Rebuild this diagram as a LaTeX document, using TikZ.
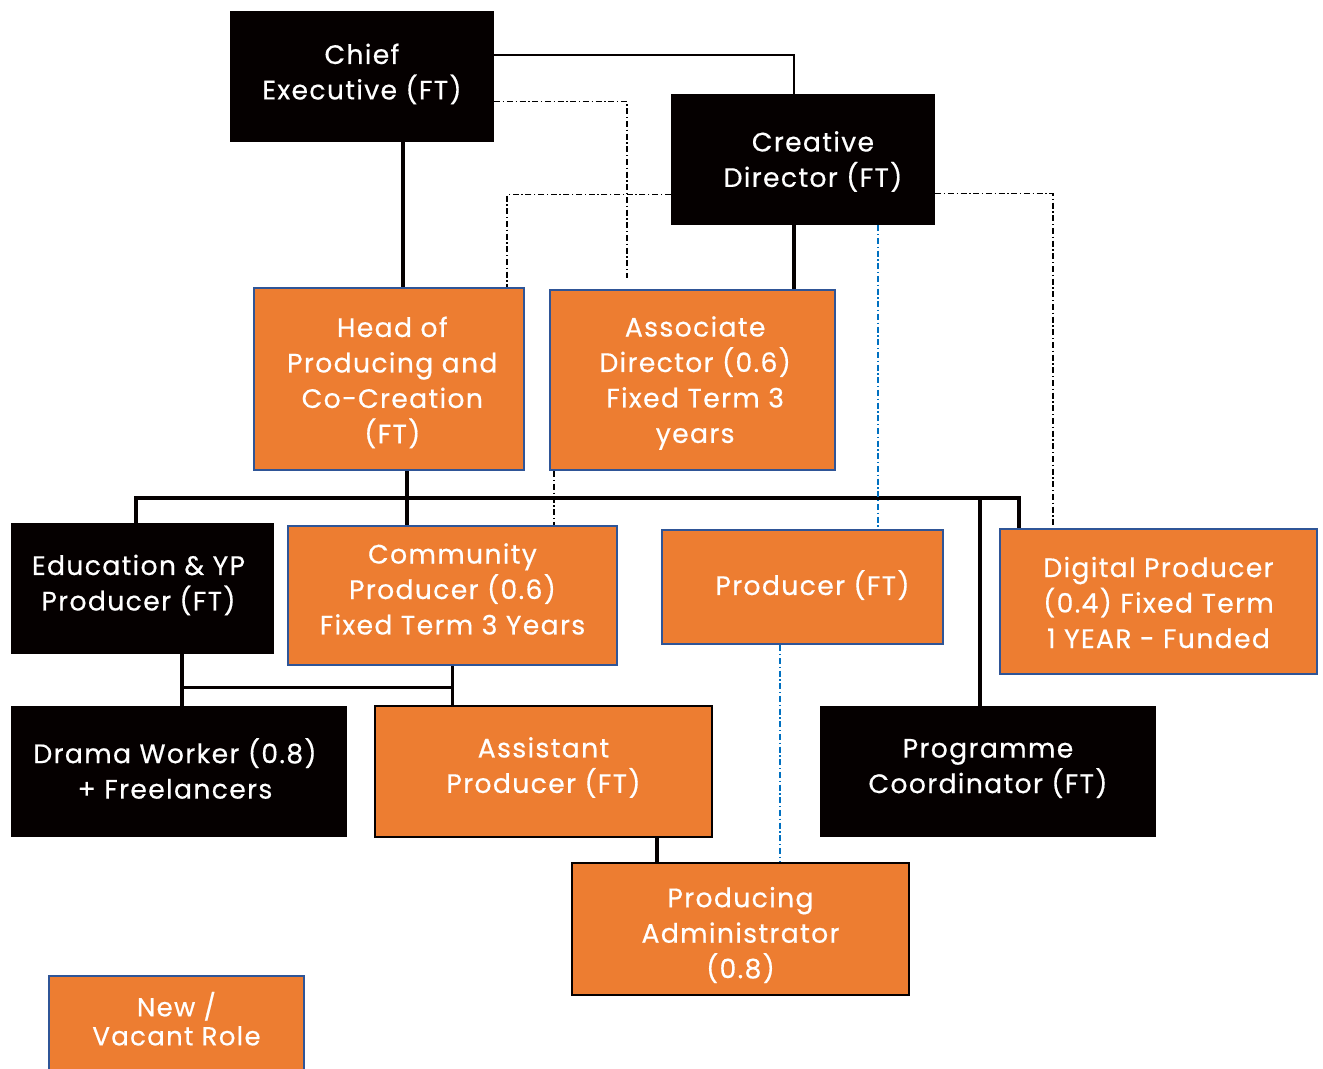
\documentclass[tikz,border=0pt]{standalone}
\usepackage{fontspec}
\setmainfont{Poppins}[LetterSpace=5,FakeBold=0.5]
\usetikzlibrary{fit,calc}
\definecolor{orng}{RGB}{237,125,49}
\definecolor{bord}{RGB}{47,85,151}
\definecolor{dblue}{RGB}{0,112,192}
\definecolor{blk}{RGB}{5,0,0}
\begin{document}
\begin{tikzpicture}[x=0.75pt,y=-0.75pt,
  txt/.style={font=\fontsize{20}{26.6}\selectfont, text=white, align=center, inner sep=0pt},
  boxbase/.style={inner sep=0pt},
  blackbox/.style={boxbase, fill=blk, draw=none},
  orangebox/.style={boxbase, fill=orng, draw=bord, line width=1.8pt},
  orangekbox/.style={boxbase, fill=orng, draw=blk, line width=2.2pt},
  thicklink/.style={draw=blk, line width=2.6pt},
  thinlink/.style={draw=blk, line width=1.8pt},
  dd/.style={line width=0.8pt, dash pattern=on 4.5pt off 2pt on 1pt off 2pt},
  ddblack/.style={dd, draw=black},
  ddblue/.style={dd, draw=dblue}]
\useasboundingbox (0,0) rectangle (1323,1068);
\clip (0,0) rectangle (1323,1068);
\fill[white] (0,0) rectangle (1323,1068);

% boxes
\node[blackbox, fit={(230,11) (494,142)}, label={[txt,yshift=1.9pt]center:{Chief\\Executive (FT)}}] (ce) {};
\node[blackbox, fit={(671,94) (935,225)}, label={[txt,xshift=7.5pt,yshift=-1.5pt]center:{Creative\\Director (FT)}}] (cd) {};
\node[orangebox, fit={(254,288) (524,470)}, label={[txt,xshift=2.5pt,yshift=-2.6pt]center:{Head of\\Producing and\\Co-Creation\\(FT)}}] (hp) {};
\node[orangebox, fit={(550,290) (835,470)}, label={[txt,xshift=2pt,yshift=-2.25pt]center:{Associate\\Director (0.6)\\Fixed Term 3\\years}}] (ad) {};
\node[blackbox, fit={(11,523) (274,654)}, label={[txt,xshift=-3pt,yshift=2.6pt]center:{Education \& YP\\Producer (FT)}}] (ed) {};
\node[orangebox, fit={(288,526) (617,665)}, label={[txt,yshift=4.9pt]center:{Community\\Producer (0.6)\\Fixed Term 3 Years}}] (cp) {};
\node[orangebox, fit={(662,530) (943,644)}, label={[txt,xshift=7.5pt,yshift=1.5pt]center:{Producer (FT)}}] (pr) {};
\node[orangebox, fit={(1000,529) (1317,674)}, label={[txt,yshift=-0.75pt]center:{Digital Producer\\(0.4) Fixed Term\\1 YEAR - Funded}}] (dp) {};
\node[blackbox, fit={(11,706) (347,837)}, label={[txt,xshift=-3pt,yshift=2.25pt]center:{Drama Worker (0.8)\\+ Freelancers}}] (dw) {};
\node[orangekbox, fit={(375,706) (712,837)}, label={[txt,yshift=3pt]center:{Assistant\\Producer (FT)}}] (ap) {};
\node[blackbox, fit={(820,706) (1156,837)}, label={[txt,yshift=2.25pt]center:{Programme\\Coordinator (FT)}}] (pc) {};
\node[orangekbox, fit={(572,863) (909,995)}, label={[txt,yshift=-4.5pt]center:{Producing\\Administrator\\(0.8)}}] (pa) {};
\node[orangebox, fit={(49,976) (304,1070)}, label={[txt,font=\fontsize{19.5}{21.75}\selectfont,yshift=3.25pt]center:{New /\\Vacant Role}}] (nv) {};

% solid connectors
\draw[thinlink] ([yshift=-33pt]ce.north east) -| ([xshift=-6.75pt]cd.north);
\coordinate (ceb) at ([xshift=30.75pt]ce.south);
\draw[thicklink] (ceb) -- (ceb |- hp.north);
\coordinate (cdb) at ([xshift=-6.75pt]cd.south);
\draw[thicklink] (cdb) -- (cdb |- ad.north);

% bus under Head of Producing
\coordinate (hpb) at ([xshift=13.5pt]hp.south);
\coordinate (bus) at ([yshift=-20.25pt]hpb);
\draw[thicklink] (hpb) -- (hpb |- cp.north);
\draw[thicklink] ([xshift=-4.875pt]ed.north) |- (bus) -| ([xshift=-104.625pt]dp.north);
\coordinate (pct) at ([xshift=-6pt]pc.north);
\draw[thicklink] (pct) -- (pct |- bus);

% education / community to lower row
\coordinate (edb) at ([xshift=29.625pt]ed.south);
\draw[thicklink] (edb) -- (edb |- dw.north);
\draw[thicklink] (cp.south) -- (cp.south |- ap.north);
\coordinate (mid) at ($(cp.south)!0.55!(cp.south |- ap.north)$);
\draw[thicklink] (mid) -- (mid -| edb);
\coordinate (apb) at ([xshift=85.125pt]ap.south);
\draw[thicklink] (apb) -- (apb |- pa.north);

% dash-dot connectors
\draw[ddblack, shorten >=8pt] ([yshift=-68.25pt]ce.north east) -| ([xshift=-49.125pt]ad.north);
\draw[ddblack] ([yshift=-75.75pt]cd.north west) -| ([xshift=88.5pt]hp.north);
\draw[ddblack] ([yshift=-75pt]cd.north east) -| ([xshift=-79.125pt]dp.north);
\coordinate (cdbl) at ([xshift=56.25pt]cd.south);
\draw[ddblue] (cdbl) -- (cdbl |- pr.north);
\coordinate (adb) at ([xshift=-103.875pt]ad.south);
\draw[ddblack] (adb) -- (adb |- cp.north);
\coordinate (prb) at ([xshift=-16.875pt]pr.south);
\draw[ddblue] (prb) -- (prb |- pa.north);
\end{tikzpicture}
\end{document}
